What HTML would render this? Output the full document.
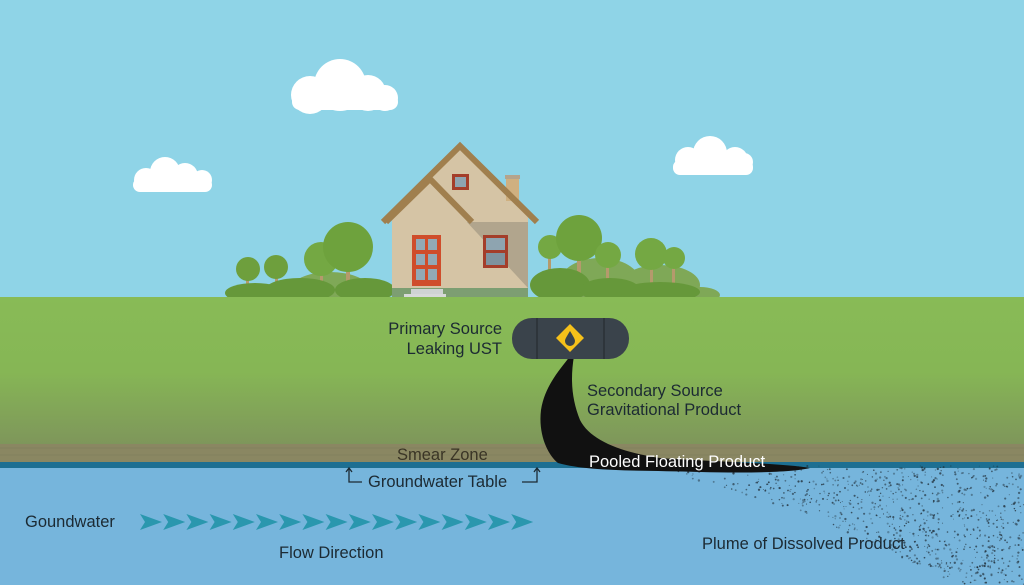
<!DOCTYPE html>
<html><head><meta charset="utf-8"><style>
html,body{margin:0;padding:0;width:1024px;height:585px;overflow:hidden;}
svg{display:block}
text{font-family:"Liberation Sans",sans-serif;}
</style></head><body>
<svg id="s" width="1024" height="585" viewBox="0 0 1024 585" xmlns="http://www.w3.org/2000/svg">
<defs>
<linearGradient id="g" x1="0" y1="0" x2="0" y2="1">
<stop offset="0" stop-color="#88bb56"/><stop offset="0.5" stop-color="#86b655"/><stop offset="1" stop-color="#7e955b"/>
</linearGradient>
</defs>
<rect width="1024" height="300" fill="#8fd4e7"/>
<g fill="#fff">
<circle cx="340" cy="85" r="26"/><circle cx="310" cy="95" r="19"/><circle cx="368" cy="93" r="18"/><circle cx="385" cy="98" r="13"/><rect x="292" y="94" width="106" height="16" rx="8"/>
<circle cx="165" cy="172" r="15"/><circle cx="185" cy="176" r="13"/><circle cx="146" cy="180" r="12"/><circle cx="202" cy="180" r="10"/><rect x="133" y="178" width="79" height="14" rx="7"/>
<circle cx="710" cy="153" r="17"/><circle cx="688" cy="160" r="13"/><circle cx="735" cy="160" r="13"/><circle cx="744" cy="162" r="9"/><rect x="673" y="160" width="80" height="15" rx="7"/>
</g>
<g fill="#7fa857">
<ellipse cx="330" cy="290" rx="40" ry="18"/><ellipse cx="600" cy="282" rx="40" ry="24"/><ellipse cx="660" cy="285" rx="40" ry="20"/><ellipse cx="700" cy="295" rx="20" ry="8"/>
</g>
<g>
<rect x="246" y="270" width="3" height="20" fill="#b59a6c"/><circle cx="248" cy="269" r="12" fill="#6e9f3d"/>
<rect x="275" y="275" width="3" height="20" fill="#b59a6c"/><circle cx="276" cy="267" r="12" fill="#6e9f3d"/>
<rect x="320" y="265" width="3" height="25" fill="#b59a6c"/><circle cx="321" cy="259" r="17" fill="#74a843"/>
<rect x="346" y="255" width="4" height="35" fill="#b59a6c"/><circle cx="348" cy="247" r="25" fill="#6ea23d"/>
<rect x="548" y="250" width="3" height="30" fill="#b59a6c"/><circle cx="550" cy="247" r="12" fill="#74a843"/>
<rect x="577" y="250" width="4" height="40" fill="#b59a6c"/><circle cx="579" cy="238" r="23" fill="#6ea23d"/>
<rect x="606" y="260" width="3" height="30" fill="#b59a6c"/><circle cx="608" cy="255" r="13" fill="#74a843"/>
<rect x="650" y="265" width="3" height="25" fill="#b59a6c"/><circle cx="651" cy="254" r="16" fill="#74a843"/>
<rect x="672" y="265" width="3" height="25" fill="#b59a6c"/><circle cx="674" cy="258" r="11" fill="#74a843"/>
</g>
<g fill="#66983a">
<ellipse cx="255" cy="293" rx="30" ry="10"/><ellipse cx="300" cy="290" rx="35" ry="12"/><ellipse cx="365" cy="290" rx="30" ry="12"/>
<ellipse cx="560" cy="285" rx="30" ry="17"/><ellipse cx="610" cy="290" rx="30" ry="12"/><ellipse cx="660" cy="292" rx="40" ry="10"/>
</g>
<rect x="392" y="215" width="136" height="80" fill="#d5c4a5"/>
<polygon points="465,222 528,222 528,288 465,220" fill="#b1a58d"/>
<polygon points="460,150 528,215 528,222 430,222 392,222 392,215" fill="#d5c4a5"/>
<polygon points="430,182 470,222 430,222" fill="#b8ac92"/>
<polygon points="392,222 430,180 468,222" fill="#d5c4a5"/>
<rect x="506" y="175" width="13" height="26" fill="#cfb080"/><rect x="505" y="175" width="15" height="4" fill="#b4a48d"/>
<polyline points="383,222 460,146 537,222" fill="none" stroke="#a07f4e" stroke-width="6"/>
<polyline points="386,222 430,179 472,222" fill="none" stroke="#a07f4e" stroke-width="6"/>
<rect x="452" y="174" width="17" height="16" fill="#a43e2a"/><rect x="455" y="177" width="11" height="10" fill="#8ea4b0"/>
<rect x="412" y="235" width="29" height="51" fill="#cf4d2b"/>
<g fill="#92a9b6"><rect x="416" y="239" width="9" height="11"/><rect x="428" y="239" width="9" height="11"/><rect x="416" y="254" width="9" height="11"/><rect x="428" y="254" width="9" height="11"/><rect x="416" y="269" width="9" height="11"/><rect x="428" y="269" width="9" height="11"/></g>
<rect x="483" y="235" width="25" height="33" fill="#a43e2a"/><rect x="486" y="238" width="19" height="12" fill="#8ea4b0"/><rect x="486" y="253" width="19" height="12" fill="#7e939e"/>
<rect x="392" y="288" width="136" height="10" fill="#7d9e72"/>
<rect x="411" y="289" width="32" height="6" fill="#cfd3d3"/><rect x="404" y="294" width="42" height="6" fill="#d7d9d9"/>
<rect x="0" y="297" width="1024" height="150" fill="url(#g)"/>
<rect x="0" y="444" width="1024" height="19" fill="#8a8762"/>
<g stroke="#6f6d52" stroke-width="0.6" opacity="0.5"><line x1="0" y1="448" x2="1024" y2="448"/><line x1="0" y1="455" x2="1024" y2="455"/></g>
<rect x="0" y="462" width="1024" height="6" fill="#1d6f92"/>
<rect x="0" y="468" width="1024" height="117" fill="#76b5dc"/>
<g id="dots" fill="#1e2a33"></g>
<path d="M570,356 C560,370 545,385 541,410 C538,435 548,455 558,463 C590,472 640,470 700,472 C740,473 790,473 810,468 C780,463 700,461 660,458 C620,452 590,440 580,420 C572,400 570,380 574,356 Z" fill="#111"/>
<rect x="512" y="318" width="117" height="41" rx="20" fill="#3a434b"/>
<line x1="537" y1="318" x2="537" y2="359" stroke="#2a3136" stroke-width="1.5"/><line x1="604" y1="318" x2="604" y2="359" stroke="#2a3136" stroke-width="1.5"/>
<polygon points="570,324 584,338 570,352 556,338" fill="#f6c11a"/>
<path d="M570,331 C567,336 565,339 565,341 a5,5 0 0 0 10,0 C575,339 573,336 570,331Z" fill="#3a434b"/>
<g id="chev" fill="#2a97ae"></g>
<g font-size="16.5" fill="#1c2a33">
<text x="502" y="334" text-anchor="end">Primary Source</text>
<text x="502" y="354" text-anchor="end">Leaking UST</text>
<text x="587" y="396">Secondary Source</text>
<text x="587" y="415">Gravitational Product</text>
<text x="397" y="460" fill="#3a3526">Smear Zone</text>
<text x="368" y="487">Groundwater Table</text>
<text x="25" y="527">Goundwater</text>
<text x="279" y="558">Flow Direction</text>
<text x="702" y="549">Plume of Dissolved Product</text>
<text x="589" y="467" fill="#fff">Pooled Floating Product</text>
</g>
<g fill="none" stroke="#1c2a33" stroke-width="1.3">
<polyline points="349,469 349,482 362,482"/><polyline points="346,472 349,468 352,472"/>
<polyline points="537,469 537,482 522,482"/><polyline points="534,472 537,468 540,472"/>
</g>
</svg>
<script>
var ns="http://www.w3.org/2000/svg";
var c=document.getElementById("chev");
for(var i=0;i<17;i++){var x=140+i*23.2;var p=document.createElementNS(ns,"polygon");
p.setAttribute("points",(x)+",514 "+(x+22)+",522 "+(x)+",530 "+(x+5)+",522");c.appendChild(p);}
var d=document.getElementById("dots");var seed=7;function r(){seed=(seed*16807)%2147483647;return seed/2147483647;}
for(var k=0;k<2200;k++){var x=640+r()*384;var y=466+r()*119;
var t=(x-640)/384;var lower=470+Math.pow(t,1.4)*150;
if(y>lower)continue;
var dens=(x<900)?(1-(y-466)/(lower-466)*0.5):0.8;
if(x<900&&y<480&&x>700)dens*=0.5;
if(r()>dens)continue;
var e=document.createElementNS(ns,"circle");e.setAttribute("cx",x.toFixed(1));e.setAttribute("cy",y.toFixed(1));e.setAttribute("r",(0.5+r()*0.7).toFixed(2));e.setAttribute("opacity",(0.3+r()*0.5).toFixed(2));d.appendChild(e);}
</script>
</body></html>
